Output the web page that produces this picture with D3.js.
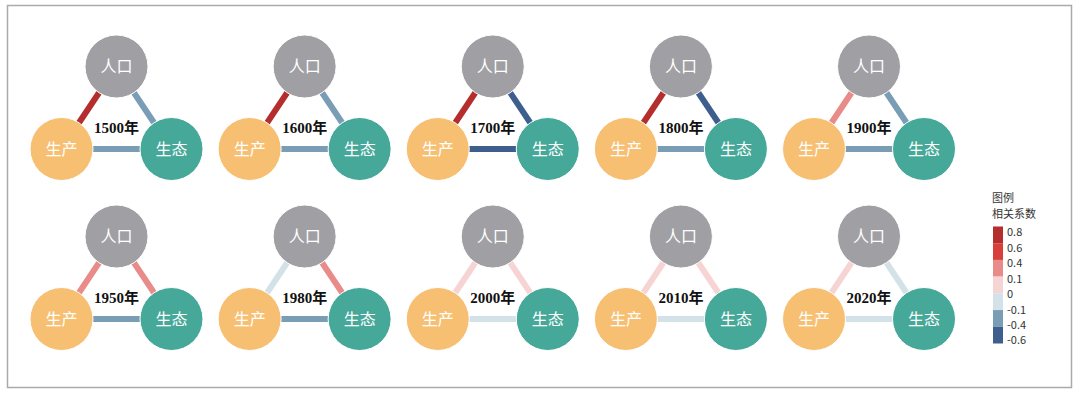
<!DOCTYPE html>
<html>
<head>
<meta charset="utf-8">
<script src="https://cdn.jsdelivr.net/npm/d3@7"></script>
<style>
  body { margin: 0; background: #fff; }
  svg text { font-family: "Noto Sans CJK SC", "Noto Sans", sans-serif; }
</style>
</head>
<body>
<div id="chart"></div>
<script>
// Data
const years = ["1500年", "1600年", "1700年", "1800年", "1900年", "1950年", "1980年", "2000年", "2010年", "2020年"];
const popProd = [0.7, 0.7, 0.7, 0.7, 0.3, 0.3, -0.05, 0.05, 0.05, 0.05];   // 人口-生产
const popEco  = [-0.3, -0.3, -0.5, -0.5, -0.3, 0.3, 0.3, 0.05, 0.05, -0.05]; // 人口-生态
const prodEco = [-0.3, -0.3, -0.5, -0.3, -0.3, -0.3, -0.3, -0.05, -0.05, -0.05]; // 生产-生态
const nodeNames = ["人口", "生产", "生态"];
const nodeColors = ["#a0a0a4", "#f7bf72", "#45a899"];
const legendLabels = ["0.8", "0.6", "0.4", "0.1", "0", "-0.1", "-0.4", "-0.6"];
const binEdges = [-0.4, -0.1, 0, 0.1, 0.4, 0.6];
const binColors = ["#3e5e8e", "#7a9db6", "#d3e2e9", "#f7d4d4", "#e98b89", "#d73f3b", "#b32e2c"];

const width = 1080, height = 396;

const svg = d3.select("#chart").append("svg")
    .attr("width", width)
    .attr("height", height);

// frame
svg.append("rect")
    .attr("x", 7.5).attr("y", 5.5)
    .attr("width", 1064).attr("height", 382)
    .attr("fill", "none")
    .attr("stroke", "#aaa")
    .attr("stroke-width", 1.5);

// Scales
const colorScale = d3.scaleThreshold().domain(binEdges).range(binColors);
const xScale = d3.scalePoint().domain(d3.range(5)).range([116.5, 869]);
const yScale = d3.scalePoint().domain([0, 1]).range([66.5, 236.5]);

// node offsets within one triangle
const dx = 55, dy = 82.5, r = 31.5;
const offsets = [[0, 0], [-dx, dy], [dx, dy]];

const panels = years.map((y, i) => ({
    year: y,
    cx: xScale(i % 5),
    cy: yScale(Math.floor(i / 5)),
    edges: [
        { a: 0, b: 1, v: popProd[i] },
        { a: 0, b: 2, v: popEco[i] },
        { a: 1, b: 2, v: prodEco[i] }
    ]
}));

const panel = svg.selectAll("g.panel")
    .data(panels)
    .enter().append("g")
    .attr("class", "panel")
    .attr("transform", d => `translate(${d.cx},${d.cy})`);

// edges
panel.selectAll("line")
    .data(d => d.edges)
    .enter().append("line")
    .attr("x1", d => offsets[d.a][0])
    .attr("y1", d => offsets[d.a][1])
    .attr("x2", d => offsets[d.b][0])
    .attr("y2", d => offsets[d.b][1])
    .attr("stroke", d => colorScale(d.v))
    .attr("stroke-width", 6);

// nodes
const node = panel.selectAll("g.node")
    .data(nodeNames.map((n, k) => ({ name: n, k })))
    .enter().append("g")
    .attr("class", "node")
    .attr("transform", d => `translate(${offsets[d.k][0]},${offsets[d.k][1]})`);

node.append("circle")
    .attr("r", r)
    .attr("fill", d => nodeColors[d.k])
    .attr("stroke", "#fff")
    .attr("stroke-width", 1);

node.append("text")
    .attr("text-anchor", "middle")
    .attr("dy", "0.36em")
    .style("fill", "#fff")
    .style("font-size", "16px")
    .text(d => d.name);

// year label
panel.append("text")
    .attr("x", 0)
    .attr("y", 61)
    .attr("text-anchor", "middle")
    .attr("dy", "0.36em")
    .style("font-family", "'Liberation Serif', 'Noto Sans CJK SC', serif")
    .style("font-weight", "bold")
    .style("font-size", "15px")
    .style("fill", "#111")
    .text(d => d.year);

// Legend
const legend = svg.append("g").attr("transform", "translate(992, 0)");

legend.append("text")
    .attr("x", 0).attr("y", 202)
    .style("font-size", "11px").style("fill", "#333")
    .text("图例");
legend.append("text")
    .attr("x", 0).attr("y", 218)
    .style("font-size", "11px").style("fill", "#333")
    .text("相关系数");

const legendY = d3.scaleBand().domain(d3.range(7)).range([226.5, 343.5]);
legend.selectAll("rect")
    .data(binColors.slice().reverse())
    .enter().append("rect")
    .attr("x", 1)
    .attr("y", (d, i) => legendY(i))
    .attr("width", 10)
    .attr("height", legendY.bandwidth())
    .attr("fill", d => d);

const labelY = d3.scalePoint().domain(d3.range(legendLabels.length)).range([232.5, 340.5]);
legend.selectAll("text.lab")
    .data(legendLabels)
    .enter().append("text")
    .attr("class", "lab")
    .attr("x", 15)
    .attr("y", (d, i) => labelY(i))
    .attr("dy", "0.36em")
    .style("font-size", "11px")
    .style("fill", "#333")
    .text(d => d);
</script>
</body>
</html>
